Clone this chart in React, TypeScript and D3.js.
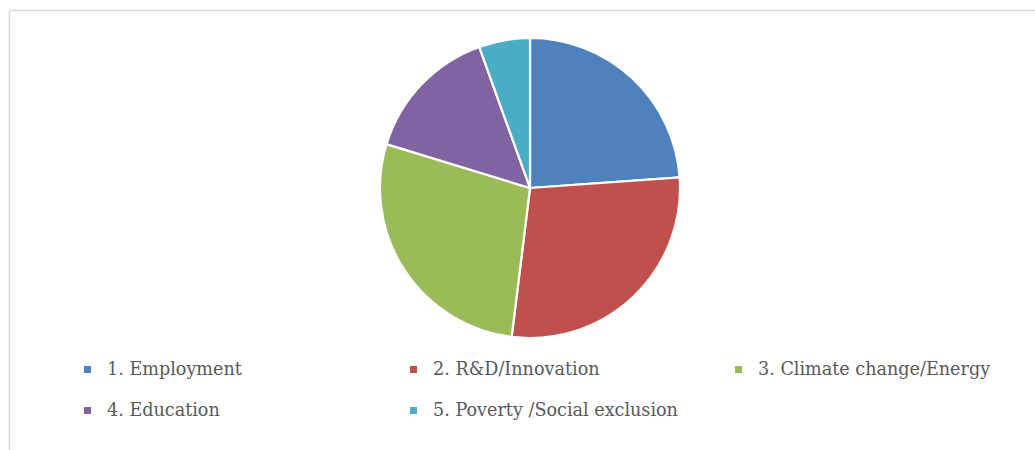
import React from "react";
import * as d3 from "d3";

const categories = [
  "1. Employment",
  "2. R&D/Innovation",
  "3. Climate change/Energy",
  "4. Education",
  "5. Poverty /Social exclusion",
];
const values = [23.9, 28.1, 27.8, 14.8, 5.5];
const colors = ["#4f81bd", "#c0504d", "#9bbb59", "#8064a2", "#4bacc6"];

const W = 1035;
const H = 450;
const cx = 530;
const cy = 188;
const R = 150;

const legendCols = [84, 410, 735];
const legendRows = [369, 410];

export default function App() {
  const pie = d3.pie<number>().sort(null).value((d) => d)(values);
  const arc = d3.arc<d3.PieArcDatum<number>>().innerRadius(0).outerRadius(R);

  return (
    <svg
      width={W}
      height={H}
      style={{ position: "absolute", left: 0, top: 0, background: "#fff" }}
    >
      <rect x={0} y={0} width={W} height={H} fill="#fff" />
      <line x1={9.5} y1={10.5} x2={W} y2={10.5} stroke="#d9d9d9" strokeWidth={1.5} />
      <line x1={9.5} y1={10.5} x2={9.5} y2={H} stroke="#d9d9d9" strokeWidth={1.5} />
      <g transform={`translate(${cx},${cy})`}>
        {pie.map((p, i) => (
          <path key={i} d={arc(p) || ""} fill={colors[i]} stroke="#fff" strokeWidth={2.2} />
        ))}
      </g>
      {categories.map((c, i) => {
        const col = i < 3 ? i : i - 3;
        const row = i < 3 ? 0 : 1;
        const x = legendCols[col];
        const y = legendRows[row];
        return (
          <g key={c}>
            <rect x={x} y={y - 3} width={7} height={7} fill={colors[i]} />
            <text
              x={x + 23}
              y={y + 6}
              fontFamily="'DejaVu Serif', serif"
              fontSize={17.6}
              fill="#595959"
            >
              {c}
            </text>
          </g>
        );
      })}
    </svg>
  );
}
